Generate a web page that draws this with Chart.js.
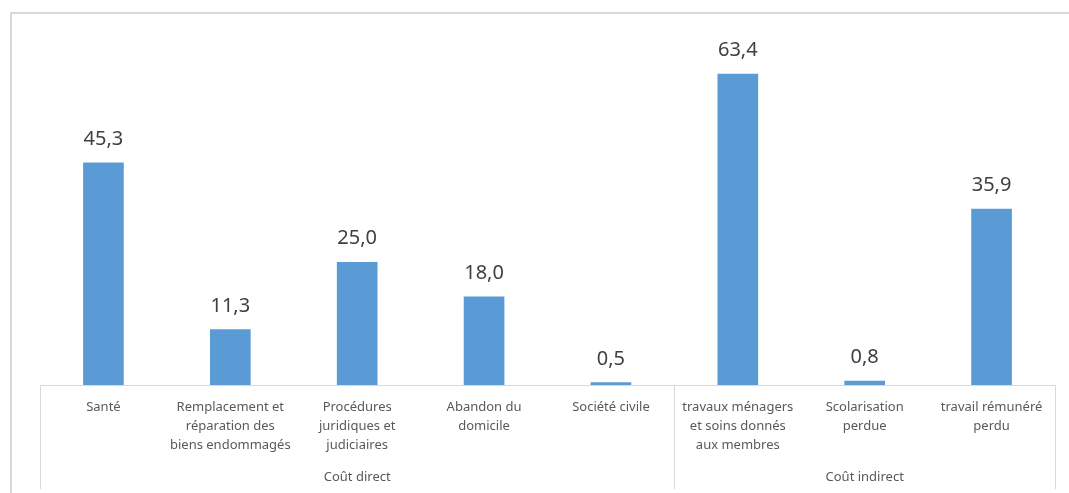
<!DOCTYPE html>
<html>
<head>
    <title>Coûts</title>
    <script src="https://cdn.jsdelivr.net/npm/chart.js"></script>
    <style>
        body { margin: 0; background: #fff; }
    </style>
</head>
<body>
<canvas id="chart" width="1069" height="493"></canvas>
<script>
    // categories (multi-line labels) and values
    var categories = [
        ['Santé'],
        ['Remplacement et', 'réparation des', 'biens endommagés'],
        ['Procédures', 'juridiques et', 'judiciaires'],
        ['Abandon du', 'domicile'],
        ['Société civile'],
        ['travaux ménagers', 'et soins donnés', 'aux membres'],
        ['Scolarisation', 'perdue'],
        ['travail rémunéré', 'perdu']
    ];
    var values = [45.3, 11.3, 25.0, 18.0, 0.5, 63.4, 0.8, 35.9];
    var groupNames = ['Coût direct', 'Coût indirect'];
    var groupSizes = [5, 3];

    var gray = '#d9d9d9';
    var fontFamily = '"Noto Sans", "Liberation Sans", sans-serif';

    // outer frame, group separators, group names, value labels
    var decorations = {
        id: 'decorations',
        beforeDraw: function(chart) {
            var c = chart.ctx;
            c.save();
            c.strokeStyle = gray;
            c.lineWidth = 2;
            c.beginPath();
            c.moveTo(11, 500);
            c.lineTo(11, 13);
            c.lineTo(1075, 13);
            c.stroke();
            c.restore();
        },
        afterDraw: function(chart) {
            var c = chart.ctx;
            var x = chart.scales.x;
            var half = (x.getPixelForValue(1) - x.getPixelForValue(0)) / 2;
            var bottom = chart.chartArea.bottom;

            c.save();
            c.strokeStyle = gray;
            c.lineWidth = 1;
            var start = 0;
            var bounds = [x.getPixelForValue(0) - half];
            for (var g = 0; g < groupSizes.length; g++) {
                var end = start + groupSizes[g] - 1;
                bounds.push(x.getPixelForValue(end) + half);
                start = end + 1;
            }
            bounds.forEach(function(bx) {
                var px = Math.round(bx) + 0.5;
                c.beginPath();
                c.moveTo(px, bottom);
                c.lineTo(px, 489);
                c.stroke();
            });

            c.fillStyle = '#595959';
            c.font = '13px ' + fontFamily;
            c.textAlign = 'center';
            c.textBaseline = 'middle';
            for (var g2 = 0; g2 < groupNames.length; g2++) {
                c.fillText(groupNames[g2], (bounds[g2] + bounds[g2 + 1]) / 2, 477);
            }

            var meta = chart.getDatasetMeta(0);
            c.fillStyle = '#404040';
            c.font = '20px ' + fontFamily;
            c.textBaseline = 'alphabetic';
            meta.data.forEach(function(bar, i) {
                c.fillText(values[i].toFixed(1).replace('.', ','), bar.x, bar.y - 18);
            });
            c.restore();
        }
    };

    var ctx = document.getElementById('chart').getContext('2d');
    var chart = new Chart(ctx, {
        type: 'bar',
        data: {
            labels: categories,
            datasets: [{
                data: values,
                backgroundColor: '#5b9bd5',
                barThickness: 40
            }]
        },
        options: {
            responsive: false,
            animation: false,
            layout: {
                padding: { left: 40, right: 14, top: 32, bottom: 0 }
            },
            plugins: {
                legend: { display: false },
                tooltip: { enabled: false }
            },
            scales: {
                y: {
                    display: false,
                    min: 0,
                    max: 72
                },
                x: {
                    grid: { display: false, drawTicks: false },
                    border: { color: gray, width: 1 },
                    ticks: {
                        color: '#595959',
                        font: { family: fontFamily, size: 13, lineHeight: 1.45 },
                        padding: 13,
                        maxRotation: 0,
                        autoSkip: false
                    },
                    afterFit: function(scale) { scale.height = 108; }
                }
            }
        },
        plugins: [decorations]
    });
</script>
</body>
</html>
